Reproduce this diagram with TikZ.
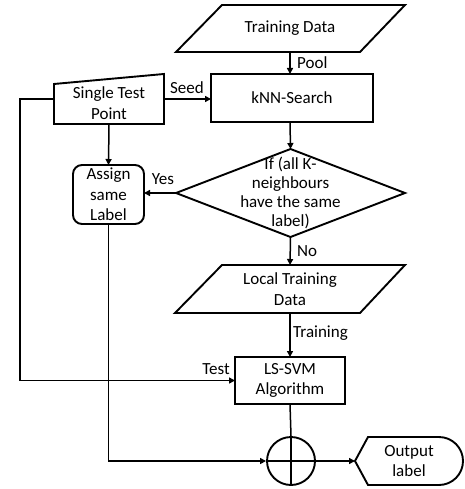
\documentclass[tikz,border=0pt]{standalone}
\usepackage{fontspec}
\setmainfont{Carlito}
\usetikzlibrary{arrows.meta}
\begin{document}
\begin{tikzpicture}[x=1pt,y=-1pt,
  shp/.style={draw, line width=1.9pt, line join=miter},
  txt/.style={font=\fontsize{17}{20.5}\selectfont, align=center, inner sep=0pt, outer sep=0pt},
  holder/.style={inner sep=0pt, outer sep=0pt},
  arr/.style={line width=1.5pt, -{Triangle[length=6pt,width=6pt]}},
  plain/.style={line width=1.5pt},
  lab/.style={font=\fontsize{17}{20}\selectfont, inner sep=0pt}]
\useasboundingbox (0,0) rectangle (464,489);
% Training Data
\node[txt, minimum width=229pt, minimum height=47pt] (td) at (290,28.5) {Training Data};
\draw[shp] (176,52) -- (222,5) -- (405,5) -- (360,52) -- cycle;
% kNN
\node[shp, txt, minimum width=162pt, minimum height=48pt] (knn) at (292,98) {kNN-Search};
% Single test point
\node[holder, minimum width=110pt, minimum height=50pt] (stp) at (109,99) {};
\node[txt] (stpt) at (109,103) {Single Test\\Point};
\draw[shp] (54,84) -- (164,74) -- (164,124) -- (54,124) -- cycle;
% Assign
\node[shp, txt, rounded corners=9pt, minimum width=71pt, minimum height=59pt] (asg) at (108.5,194.5) {Assign\\same\\Label};
% Diamond
\node[txt, font=\fontsize{17}{19}\selectfont, minimum width=229pt, minimum height=88pt] (dia) at (290.5,193) {If (all K-\\neighbours\\have the same\\label)};
\draw[shp] (dia.north) -- (dia.east) -- (dia.south) -- (dia.west) -- cycle;
% Local training data
\node[txt, minimum width=230pt, minimum height=48pt] (ltd) at (290,289) {Local Training\\Data};
\draw[shp] (175,313) -- (222,265) -- (405,265) -- (360,313) -- cycle;
% LS-SVM
\node[shp, txt, minimum width=110pt, minimum height=47pt] (ls) at (290,380.5) {LS-SVM\\Algorithm};
% Sum
\node[draw, circle, line width=1.9pt, minimum size=48pt, inner sep=0pt] (sum) at (291,461) {};
\draw[plain] (sum.north) -- (sum.south) (sum.west) -- (sum.east);
% Output
\node[txt] (outp) at (409,461) {Output\\label};
\draw[shp] (355,461) -- (368,437) -- (439,437) arc[start angle=90, end angle=-90, radius=24pt] -- (368,485) -- cycle;
% connectors
\draw[arr] (td.south) -- (td.south |- knn.north);
\draw[arr] (stp.east) -- (stp.east -| knn.west);
\draw[arr] (td.south |- knn.south) -- (dia.north);
\draw[arr] (stp.south) -- (asg.north);
\draw[arr] (dia.west) -- (dia.west -| asg.east);
\draw[arr] (dia.south) -- (ltd.north);
\draw[arr] (ltd.south) -- (ls.north);
\draw[arr] (stp.west) -- ++(-34,0) |- (ls.west);
\draw[plain] (ls.south) -- (sum.north);
\draw[arr] (asg.south) |- (sum.west);
\draw[arr] (sum.east) -- (355,461) coordinate (outtip);
% labels
\node[lab, anchor=west] (lpool) at (297,63) {Pool};
\node[lab] (lseed) at (187,88) {Seed};
\node[lab] (lyes) at (163,179) {Yes};
\node[lab, anchor=west] (lno) at (297,251) {No};
\node[lab, anchor=west] (ltrain) at (293,333) {Training};
\node[lab, anchor=east] (ltest) at (230,369) {Test};
\end{tikzpicture}
\end{document}
